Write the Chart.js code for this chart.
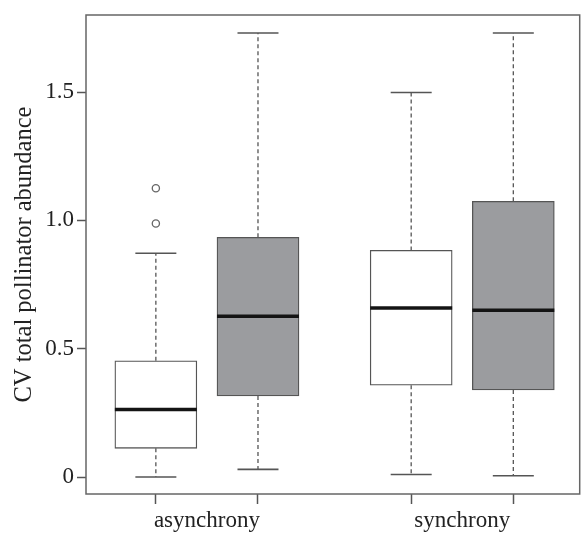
<!DOCTYPE html>
<html>
<head>
<meta charset="utf-8">
<script src="https://cdn.jsdelivr.net/npm/chart.js@4/dist/chart.umd.min.js"></script>
<style>
  html, body { margin: 0; padding: 0; background: #fff; overflow: hidden; }
  /* a few px wider than the window: the layout keeps ~5px spare on the right */
  #wrap { width: 585px; height: 533px; }
</style>
</head>
<body>
<div id="wrap"><canvas id="myChart"></canvas></div>
<script>
// box positions along x and group labels
var positions = [1, 2, 3.5, 4.5];
var groups = ['asynchrony', 'synchrony'];
var groupPos = [1.5, 4];
var fills = ['#ffffff', '#9b9c9f', '#ffffff', '#9b9c9f'];

// box statistics
var whiskLow = [0.0, 0.03, 0.01, 0.005];
var q1 = [0.112, 0.316, 0.358, 0.339];
var median = [0.263, 0.626, 0.659, 0.650];
var q3 = [0.453, 0.934, 0.883, 1.074];
var whiskHigh = [0.872, 1.73, 1.498, 1.73];
var outliers = [{x: 1, y: 1.125}, {x: 1, y: 0.988}];

var yTicks = [0, 0.5, 1.0, 1.5];

var boxes = positions.map(function (p, i) { return {x: p, y: [q1[i], q3[i]]}; });

var serif = '"Liberation Serif", "DejaVu Serif", serif';

var boxPlugin = {
  id: 'boxParts',
  beforeDatasetsDraw: function (chart) {
    var ctx = chart.ctx, xs = chart.scales.x, ys = chart.scales.y;
    ctx.save();
    positions.forEach(function (p, i) {
      var cx = xs.getPixelForValue(p);
      var half = 20.5;
      ctx.strokeStyle = '#555';
      ctx.lineWidth = 1.3;
      // dashed whiskers
      ctx.setLineDash([4, 3]);
      ctx.beginPath();
      ctx.moveTo(cx, ys.getPixelForValue(q3[i]));
      ctx.lineTo(cx, ys.getPixelForValue(whiskHigh[i]));
      ctx.moveTo(cx, ys.getPixelForValue(q1[i]));
      ctx.lineTo(cx, ys.getPixelForValue(whiskLow[i]));
      ctx.stroke();
      // caps
      ctx.setLineDash([]);
      ctx.lineWidth = 1.6;
      ctx.beginPath();
      ctx.moveTo(cx - half, ys.getPixelForValue(whiskHigh[i]));
      ctx.lineTo(cx + half, ys.getPixelForValue(whiskHigh[i]));
      ctx.moveTo(cx - half, ys.getPixelForValue(whiskLow[i]));
      ctx.lineTo(cx + half, ys.getPixelForValue(whiskLow[i]));
      ctx.stroke();
    });
    ctx.restore();
  },
  afterDatasetsDraw: function (chart) {
    var ctx = chart.ctx, xs = chart.scales.x, ys = chart.scales.y;
    ctx.save();
    // medians
    ctx.strokeStyle = '#141414';
    ctx.lineWidth = 3.5;
    positions.forEach(function (p, i) {
      var cx = xs.getPixelForValue(p);
      ctx.beginPath();
      ctx.moveTo(cx - 41, ys.getPixelForValue(median[i]));
      ctx.lineTo(cx + 41, ys.getPixelForValue(median[i]));
      ctx.stroke();
    });
    // frame
    var a = chart.chartArea;
    ctx.strokeStyle = '#666';
    ctx.lineWidth = 1.5;
    ctx.strokeRect(a.left, a.top, a.right - a.left, a.bottom - a.top);
    ctx.restore();
  }
};

var myChart = new Chart(document.getElementById('myChart').getContext('2d'), {
  type: 'bar',
  data: {
    datasets: [
      {
        type: 'bar',
        data: boxes,
        backgroundColor: fills,
        borderColor: '#555',
        borderWidth: 1.3,
        borderSkipped: false,
        barThickness: 82,
        order: 2
      },
      {
        type: 'scatter',
        data: outliers,
        pointStyle: 'circle',
        pointRadius: 3.6,
        pointBackgroundColor: '#fff',
        pointBorderColor: '#666',
        pointBorderWidth: 1.3,
        order: 1
      }
    ]
  },
  options: {
    responsive: true,
    maintainAspectRatio: false,
    animation: false,
    layout: { padding: { top: 15, right: 0, left: 0, bottom: 0 } },
    plugins: { legend: { display: false }, tooltip: { enabled: false } },
    scales: {
      x: {
        type: 'linear',
        min: 0.316,
        max: 5.15,
        offset: false,
        afterBuildTicks: function (s) {
          s.ticks = positions.concat(groupPos).sort(function (a, b) { return a - b; })
            .map(function (v) { return {value: v}; });
        },
        afterFit: function (s) { s.height = 39; s.paddingLeft = 0; s.paddingRight = 0; },
        grid: {
          display: true,
          offset: false,
          drawOnChartArea: false,
          drawTicks: true,
          tickLength: 10,
          tickWidth: 1.5,
          tickColor: function (c) {
            return (c.tick && groupPos.indexOf(c.tick.value) >= 0) ? 'rgba(0,0,0,0)' : '#555';
          }
        },
        border: { display: false },
        ticks: {
          autoSkip: false,
          maxRotation: 0,
          padding: 3,
          color: '#222',
          font: { family: serif, size: 23 },
          callback: function (v) {
            var k = groupPos.indexOf(v);
            return k >= 0 ? groups[k] : '';
          }
        }
      },
      y: {
        min: -0.066,
        max: 1.80,
        afterBuildTicks: function (s) {
          s.ticks = yTicks.map(function (v) { return {value: v}; });
        },
        afterFit: function (s) { s.width = 86; s.paddingTop = 0; s.paddingBottom = 0; },
        grid: {
          display: true,
          drawOnChartArea: false,
          drawTicks: true,
          tickLength: 9,
          tickWidth: 1.5,
          tickColor: '#555'
        },
        border: { display: false },
        title: {
          display: true,
          text: 'CV total pollinator abundance',
          color: '#222',
          font: { family: serif, size: 24.5 },
          padding: { top: 10, bottom: 0 }
        },
        ticks: {
          padding: 3,
          color: '#222',
          font: { family: serif, size: 23 },
          callback: function (v) { return v === 0 ? '0' : v.toFixed(1); }
        }
      }
    }
  },
  plugins: [boxPlugin]
});
</script>
</body>
</html>
